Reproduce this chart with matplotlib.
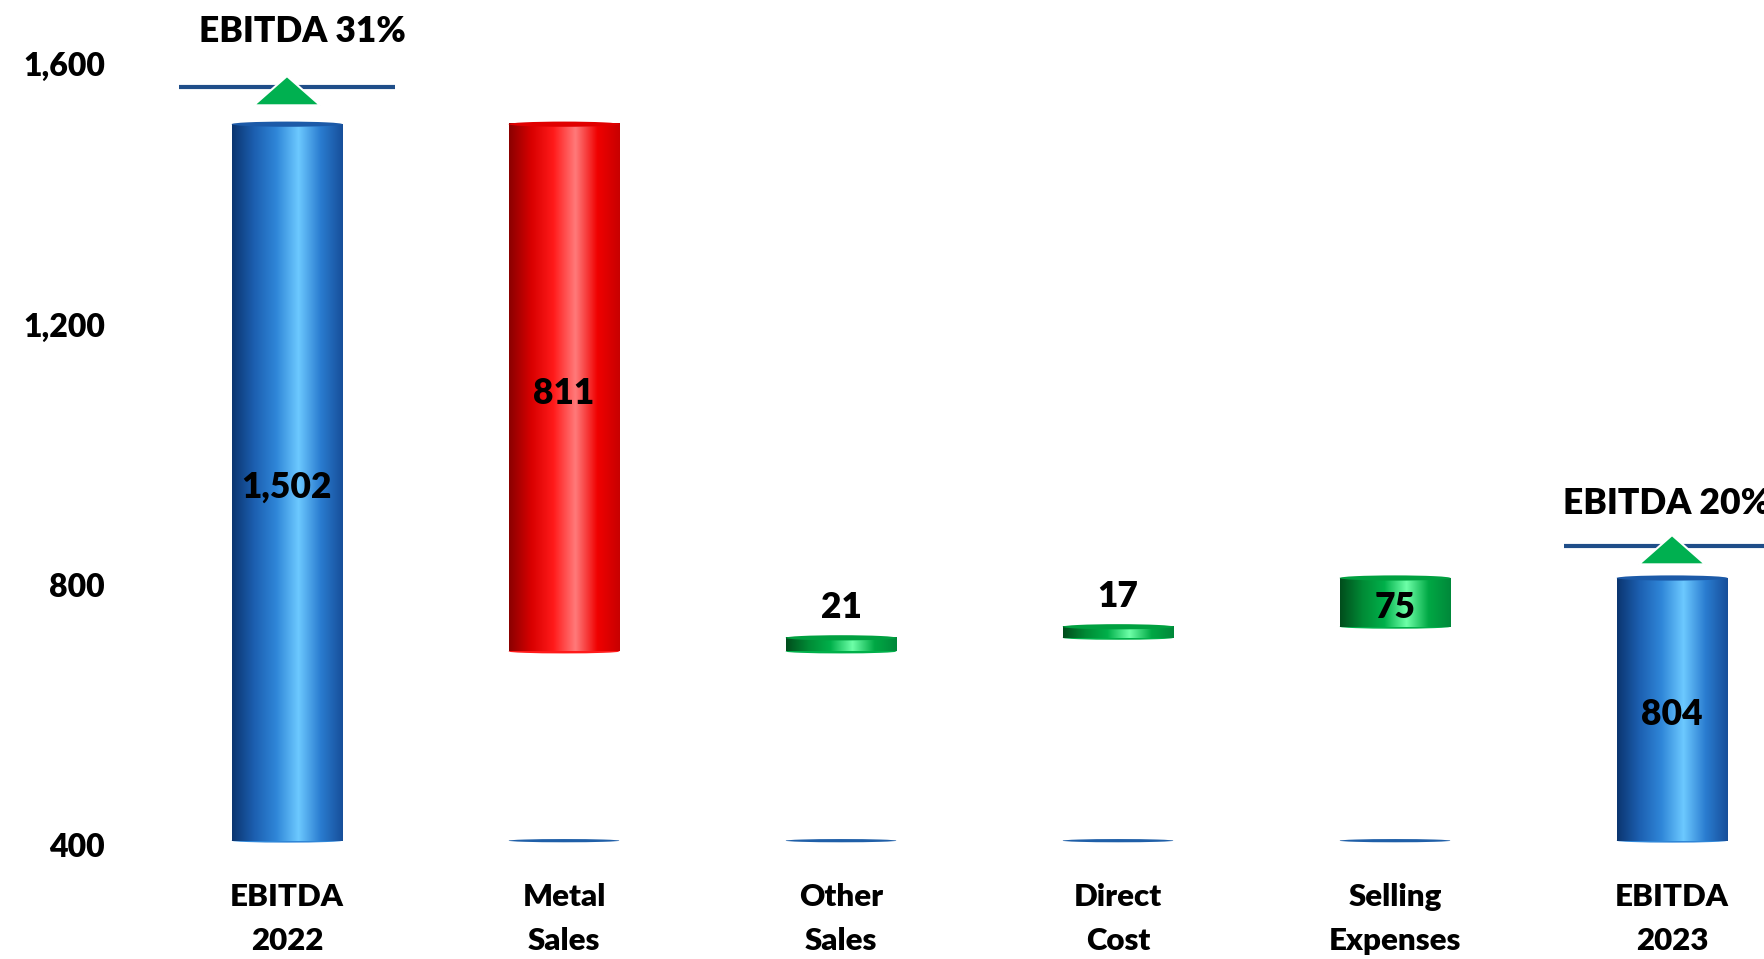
import numpy as np
import matplotlib.pyplot as plt
from matplotlib.colors import LinearSegmentedColormap
from matplotlib.patches import Ellipse, Polygon

plt.rcParams['font.family'] = ['Lato', 'DejaVu Sans']

categories = ['EBITDA\n2022', 'Metal\nSales', 'Other\nSales', 'Direct\nCost', 'Selling\nExpenses', 'EBITDA\n2023']
values = [1502, -811, 21, 17, 75, 804]
kinds = ['total', 'dec', 'inc', 'inc', 'inc', 'total']
value_labels = ['1,502', '811', '21', '17', '75', '804']
yticks = [400, 800, 1200, 1600]
margin_labels = ['EBITDA 31%', 'EBITDA 20%']
margin_levels = [1559, 853]
margin_pos = [0, 5]

base = 400
FW = 'heavy'

colors = {
    'total': ['#0b3570', '#1c5fb0', '#2f86d8', '#6cc9ff', '#2a7cd0', '#174f9a'],
    'dec': ['#8a0000', '#d80000', '#ff1a1a', '#ff7a7a', '#f00000', '#c80000'],
    'inc': ['#004d1c', '#008a35', '#00b04a', '#6effa8', '#00a844', '#00883a'],
}
cap_colors = {'total': '#1c5aa8', 'dec': '#e00000', 'inc': '#00a040'}

fig = plt.figure(figsize=(17.64, 9.59), dpi=100)
ax = fig.add_axes([0, 0, 1, 1])
ax.set_xlim(-1.036, 5.332)
ax.set_ylim(218, 1693)
ax.axis('off')

w = 0.40
grad = np.linspace(0, 1, 256).reshape(1, -1)

running = 0
for i, (cat, v, k) in enumerate(zip(categories, values, kinds)):
    if k == 'total':
        lo, hi = base, v
        running = v
    elif k == 'dec':
        hi = running
        lo = running + v
        running = lo
    else:
        lo = running
        hi = running + v
        running = hi
    cmap = LinearSegmentedColormap.from_list(k, colors[k])
    ax.imshow(grad, cmap=cmap, aspect='auto', extent=[i - w / 2, i + w / 2, lo, hi], zorder=2)
    ax.add_patch(Ellipse((i, hi), w, 8, color=cap_colors[k], zorder=3, lw=0))
    ax.add_patch(Ellipse((i, lo), w, 6, color=colors[k][2], zorder=1, lw=0))
    if k != 'total':
        # base of the invisible series
        ax.add_patch(Ellipse((i, base), w, 5, color='#1f5fa8', zorder=1, lw=0))

    # value labels
    if k == 'inc' and v < 40:
        ax.text(i, hi + 46, value_labels[i], ha='center', va='center', fontsize=25.5, fontweight=FW)
    else:
        ax.text(i, (lo + hi) / 2 - 8, value_labels[i], ha='center', va='center', fontsize=25.5, fontweight=FW)

    ax.text(i, 280, cat, ha='center', va='center', fontsize=22.5, fontweight=FW, linespacing=1.7)

for t in yticks:
    ax.text(-0.657, t - 10, f'{t:,}', ha='right', va='center', fontsize=23, fontweight=FW)

# EBITDA margin markers
label_dx = {0: 0.057, 5: -0.02}
label_dy = {0: 86, 5: 66}
for p, lvl, lab in zip(margin_pos, margin_levels, margin_labels):
    ax.plot([p - 0.39, p + 0.39], [lvl, lvl], color='#1f4e89', lw=3, zorder=4, solid_capstyle='butt')
    tri = Polygon([[p - 0.12, lvl - 28], [p + 0.12, lvl - 28], [p, lvl + 17]],
                  closed=True, facecolor='#00b050', edgecolor='white', lw=1.5, zorder=5)
    ax.add_patch(tri)
    ax.text(p + label_dx[p], lvl + label_dy[p], lab, ha='center', va='center', fontsize=25.5, fontweight=FW)

plt.savefig('out.png', dpi=100)
